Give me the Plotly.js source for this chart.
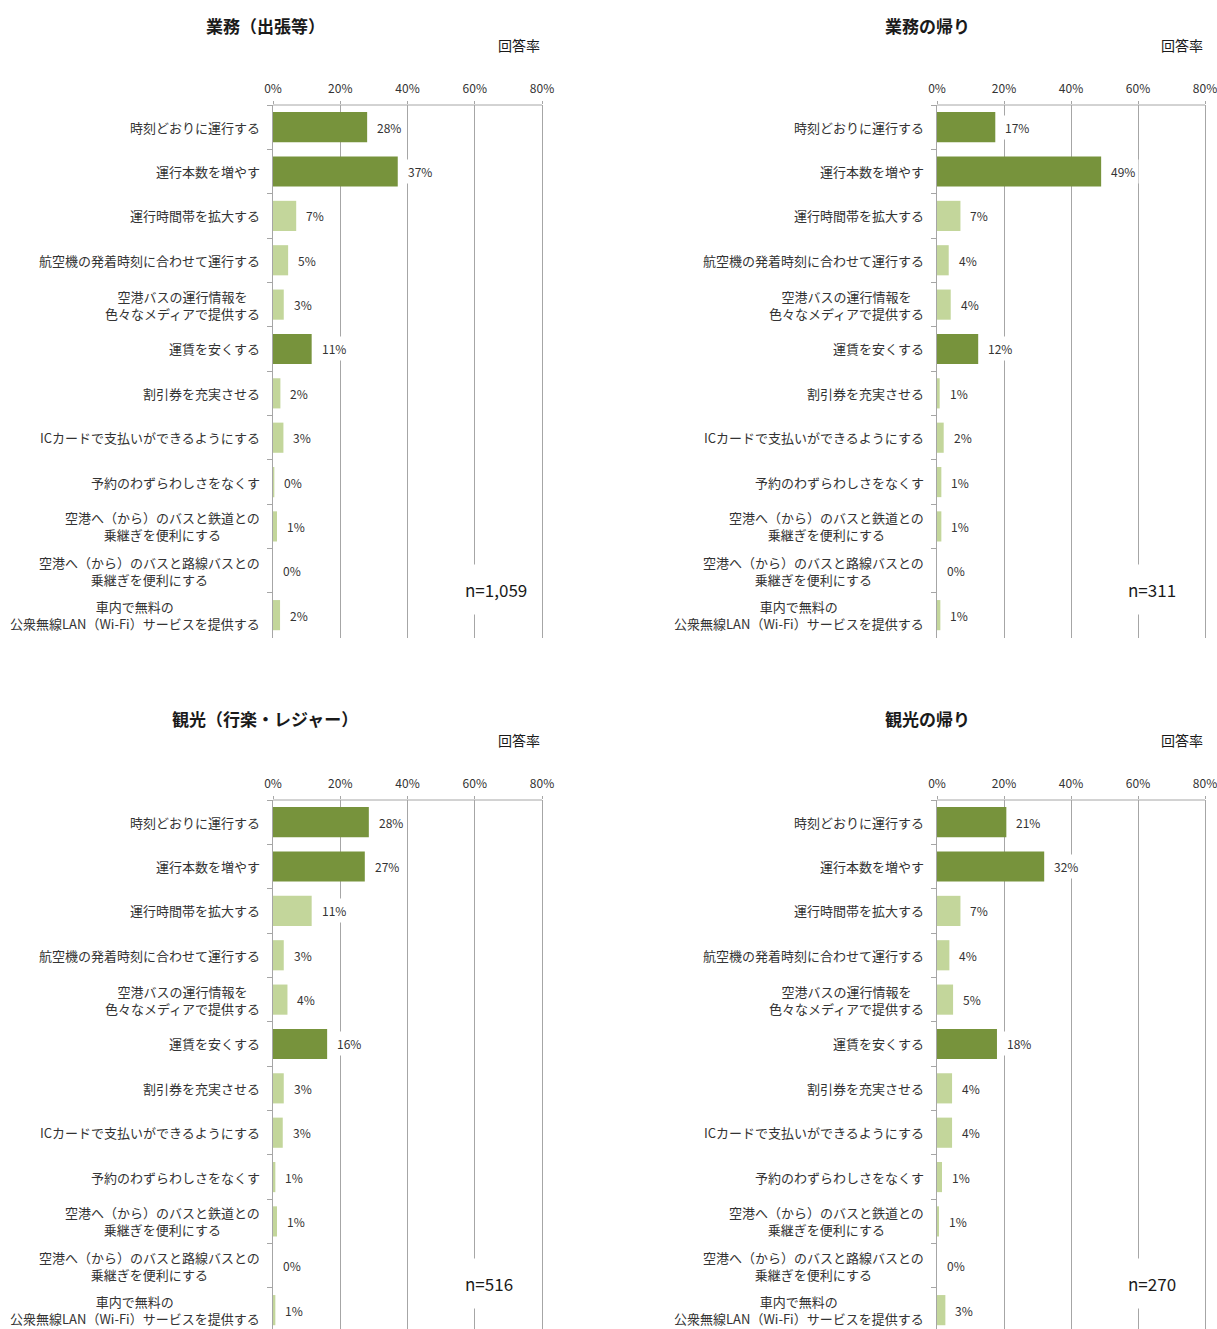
<!DOCTYPE html>
<html>
<head>
<meta charset="utf-8">
<script src="https://cdn.plot.ly/plotly-3.0.1.min.js"></script>
<style>html,body{margin:0;padding:0;background:#fff;}#chart{width:1217px;height:1329px;}</style>
</head>
<body>
<div id="chart"></div>
<script>
const categories = [
  '時刻どおりに運行する',
  '運行本数を増やす',
  '運行時間帯を拡大する',
  '航空機の発着時刻に合わせて運行する',
  '空港バスの運行情報を<br>色々なメディアで提供する',
  '運賃を安くする',
  '割引券を充実させる',
  'ICカードで支払いができるようにする',
  '予約のわずらわしさをなくす',
  '空港へ（から）のバスと鉄道との<br>乗継ぎを便利にする',
  '空港へ（から）のバスと路線バスとの<br>乗継ぎを便利にする',
  '車内で無料の<br>公衆無線LAN（Wi-Fi）サービスを提供する'
];

const panelTitles = ['業務（出張等）', '業務の帰り', '観光（行楽・レジャー）', '観光の帰り'];
const sampleSizes = ['n=1,059', 'n=311', 'n=516', 'n=270'];

const bizOut    = [28.0, 37.1, 6.9, 4.5, 3.2, 11.5, 2.2, 3.1, 0.4, 1.2, 0, 2.1];
const bizOutLbl = ['28%','37%','7%','5%','3%','11%','2%','3%','0%','1%','0%','2%'];
const bizRet    = [17.4, 49.0, 7.0, 3.5, 4.1, 12.3, 0.8, 2.0, 1.3, 1.3, 0, 1.0];
const bizRetLbl = ['17%','49%','7%','4%','4%','12%','1%','2%','1%','1%','0%','1%'];
const tourOut    = [28.5, 27.3, 11.5, 3.2, 4.3, 16.1, 3.2, 2.9, 0.7, 1.2, 0, 0.7];
const tourOutLbl = ['28%','27%','11%','3%','4%','16%','3%','3%','1%','1%','0%','1%'];
const tourRet    = [20.7, 32.0, 7.0, 3.7, 4.8, 17.9, 4.5, 4.5, 1.5, 0.6, 0, 2.5];
const tourRetLbl = ['21%','32%','7%','4%','5%','18%','4%','4%','1%','1%','0%','3%'];

const xTickVals = [0, 20, 40, 60, 80];
const xTickText = ['0%', '20%', '40%', '60%', '80%'];
const X_MAX = 80;
const X_PAD = 0.6;   // small extra range so the 80% grid line is drawn

const DARK = '#77933C', LIGHT = '#C3D69B';
const FONT = '"Noto Sans CJK JP", "Noto Sans", sans-serif';
const TXT = '#333333', GRID = '#A6A6A6';
const W = 1217, H = 1329;

const series = [
  {vals: bizOut, lbl: bizOutLbl},
  {vals: bizRet, lbl: bizRetLbl},
  {vals: tourOut, lbl: tourOutLbl},
  {vals: tourRet, lbl: tourRetLbl}
];

// panel geometry in pixels (x0 = 0% position, x1 = 80% position)
const geo = [
  {x0: 273, x1: 542, top: 105, bot: 638, titleX: 265, titleY: 25, unitY: 45, nX: 496, nY: 589},
  {x0: 937, x1: 1205, top: 105, bot: 638, titleX: 928, titleY: 25, unitY: 45, nX: 1152, nY: 589},
  {x0: 273, x1: 542, top: 800, bot: 1329, titleX: 265, titleY: 719, unitY: 740, nX: 489, nY: 1283},
  {x0: 937, x1: 1205, top: 800, bot: 1329, titleX: 928, titleY: 719, unitY: 740, nX: 1152, nY: 1283}
];
const SPACING = 44.36;

const data = [];
const annotations = [];
const shapes = [];
const layout = {
  width: W, height: H,
  margin: {l: 0, r: 0, t: 0, b: 0},
  paper_bgcolor: '#fff', plot_bgcolor: '#fff',
  showlegend: false,
  bargap: 0.32,
  font: {family: FONT, color: TXT, size: 12}
};

series.forEach((s, i) => {
  const k = i === 0 ? '' : String(i + 1);
  const g = geo[i];
  const sorted = s.vals.slice().sort((a, b) => b - a);
  const thr = sorted[2];
  const colors = s.vals.map(v => v >= thr ? DARK : LIGHT);
  data.push({
    type: 'bar', orientation: 'h',
    x: s.vals, y: categories,
    xaxis: 'x' + k, yaxis: 'y' + k,
    marker: {color: colors, line: {width: 0}},
    hoverinfo: 'skip'
  });
  const nCats = (g.bot - g.top) / SPACING;
  const xEnd = g.x0 + (g.x1 - g.x0) * (X_MAX + X_PAD) / X_MAX;
  layout['xaxis' + k] = {
    domain: [g.x0 / W, xEnd / W],
    anchor: 'y' + k,
    side: 'top',
    range: [0, X_MAX + X_PAD],
    tickvals: xTickVals, ticktext: xTickText,
    ticklabeloverflow: 'allow',
    ticklabelstandoff: 3,
    showgrid: true, gridcolor: GRID, gridwidth: 1,
    zeroline: false,
    showline: false,
    ticks: 'outside', ticklen: 3, tickcolor: GRID,
    tickfont: {family: FONT, size: 12, color: TXT},
    fixedrange: true
  };
  // top axis line spanning 0%..80% only
  shapes.push({
    type: 'line', xref: 'x' + k, yref: 'y' + k + ' domain',
    x0: 0, x1: X_MAX, y0: 1, y1: 1,
    line: {color: GRID, width: 1}
  });
  layout['yaxis' + k] = {
    domain: [1 - g.bot / H, 1 - g.top / H],
    anchor: 'x' + k,
    type: 'category',
    categoryorder: 'array', categoryarray: categories,
    range: [nCats - 0.5, -0.5],
    showticklabels: false,
    ticks: 'outside', ticklen: 5, tickcolor: GRID, tickson: 'boundaries',
    showgrid: false, zeroline: false,
    showline: true, linecolor: GRID, linewidth: 1,
    fixedrange: true
  };
  // category labels
  categories.forEach((c, j) => {
    annotations.push({
      xref: 'paper', yref: 'y' + k,
      x: g.x0 / W, y: c, xshift: -11,
      xanchor: 'right', yanchor: 'middle', align: 'center',
      text: c, showarrow: false,
      font: {family: FONT, size: 13, color: TXT}
    });
  });
  // data labels
  s.vals.forEach((v, j) => {
    annotations.push({
      xref: 'x' + k, yref: 'y' + k,
      x: v, y: categories[j], xshift: 6,
      xanchor: 'left', yanchor: 'middle',
      text: s.lbl[j], showarrow: false,
      bgcolor: '#fff', borderpad: 3,
      font: {family: FONT, size: 12, color: TXT}
    });
  });
  // title
  annotations.push({
    xref: 'paper', yref: 'paper', x: g.titleX / W, y: 1 - g.titleY / H,
    xanchor: 'center', yanchor: 'middle', showarrow: false,
    text: '<b>' + panelTitles[i] + '</b>',
    font: {family: FONT, size: 17, color: '#1a1a1a'}
  });
  // unit label
  annotations.push({
    xref: 'paper', yref: 'paper', x: g.x1 / W, y: 1 - g.unitY / H,
    xanchor: 'right', yanchor: 'middle', showarrow: false,
    text: '回答率',
    font: {family: FONT, size: 14, color: '#1a1a1a'}
  });
  // sample size
  annotations.push({
    xref: 'paper', yref: 'paper', x: g.nX / W, y: 1 - g.nY / H,
    xanchor: 'center', yanchor: 'middle', showarrow: false,
    text: sampleSizes[i], bgcolor: '#fff', borderpad: 12,
    font: {family: FONT, size: 17, color: '#1a1a1a'}
  });
});

layout.annotations = annotations;
layout.shapes = shapes;
Plotly.newPlot('chart', data, layout, {staticPlot: true, displayModeBar: false});
</script>
</body>
</html>
